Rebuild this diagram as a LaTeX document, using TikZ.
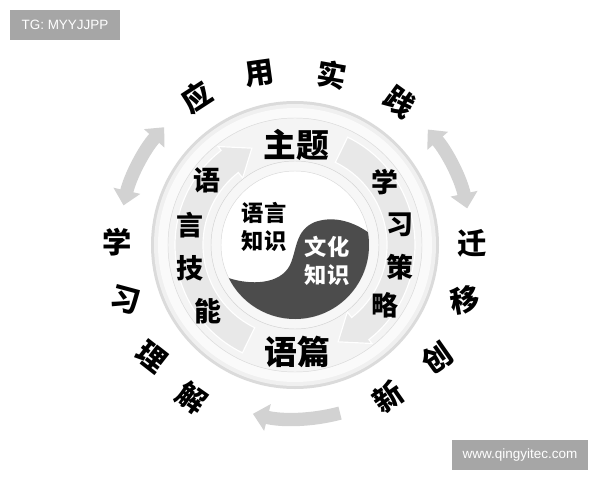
\documentclass[tikz,border=0pt]{standalone}
\usepackage{fontspec}
\setmainfont{Liberation Sans}
\newfontfamily\cjk{Noto Sans CJK SC}
\usetikzlibrary{arrows.meta}

\begin{document}
\begin{tikzpicture}[x=0.03cm, y=0.03cm, >={Triangle[length=0.45cm,width=0.8cm]},
        rimchar/.style={font=\cjk\bfseries\fontsize{25}{25}\selectfont},
        bandchar/.style={font=\cjk\bfseries\fontsize{23}{23}\selectfont},
        corechar/.style={font=\cjk\bfseries\fontsize{19}{24}\selectfont, align=center},
        wmark/.style={fill=gray!70, text=white, font=\fontsize{11.5}{12}\selectfont, minimum height=0.9cm},
        bigarrow/.style={gray!35, line width=0.4cm}]
        \useasboundingbox (-295,-235) rectangle (305,245);

        % disk with its rim
        \fill[gray!28] (0,0) circle (144);
        \fill[gray!12] (0,0) circle (141);
        \fill[gray!4] (0,0) circle (137);
        \filldraw[fill=gray!9, draw=gray!30] (0,0) circle (127);

        % the two arrows in the band
        \filldraw[fill=gray!18, draw=white, line width=1pt] (244:92) arc[start angle=244, end angle=128, radius=92]
          -- (128:85) -- (114:106) -- (128:125) -- (128:120) arc[start angle=128, end angle=244, radius=120] -- cycle;
        \filldraw[fill=gray!18, draw=white, line width=1pt] (64:92) arc[start angle=64, end angle=-52, radius=92]
          -- (-52:85) -- (-66:106) -- (-52:125) -- (-52:120) arc[start angle=-52, end angle=64, radius=120] -- cycle;

        % inner rim and yin-yang
        \filldraw[fill=gray!6, draw=gray!35] (0,0) circle (84);
        \filldraw[fill=white, draw=gray!30] (0,0) circle (74);
        \fill[black!70] (10:74) arc[start angle=10, end angle=-153.4, radius=74]
          .. controls (-45,-40) and (-15,-40) .. (-5,-20)
          .. controls (2,-5) and (0,15) .. (20,23)
          .. controls (40,30) and (60,22) .. (10:74) -- cycle;

        \node[corechar] (lang) at (-31,18) {语言\\知识};
        \node[corechar, text=white] (cult) at (32,-16) {文化\\知识};

        \node[bandchar, font=\cjk\bfseries\fontsize{28}{28}\selectfont] (theme) at (1,100) {主题};
        \node[bandchar, font=\cjk\bfseries\fontsize{28}{28}\selectfont] (text) at (2,-107) {语篇};

        \node[bandchar] (skill1) at (-88,65) {语};
        \node[bandchar] (skill2) at (-105,20) {言};
        \node[bandchar] (skill3) at (-105,-23) {技};
        \node[bandchar] (skill4) at (-87,-66) {能};

        \node[bandchar] (strat1) at (90,63) {学};
        \node[bandchar] (strat2) at (105,20) {习};
        \node[bandchar] (strat3) at (105,-22) {策};
        \node[bandchar] (strat4) at (90,-60) {略};

        % outer words
        \node[rimchar, rotate=33] (apply1) at (-98,148) {应};
        \node[rimchar, rotate=8] (apply2) at (-35,172) {用};
        \node[rimchar, rotate=-10] (apply3) at (37,170) {实};
        \node[rimchar, rotate=-36] (apply4) at (105,143) {践};

        \node[rimchar] (move1) at (177,2) {迁};
        \node[rimchar, rotate=10] (move2) at (170,-55) {移};
        \node[rimchar, rotate=35] (move3) at (142,-113) {创};
        \node[rimchar, rotate=35] (move4) at (93,-152) {新};

        \node[rimchar] (learn1) at (-178,3) {学};
        \node[rimchar, rotate=-15] (learn2) at (-170,-55) {习};
        \node[rimchar, rotate=-38] (learn3) at (-143,-112) {理};
        \node[rimchar, rotate=-35] (learn4) at (-103,-153) {解};

        % grey arrows round the disk
        \draw[bigarrow, <->] (167:176) arc[start angle=167, end angle=138, radius=176];
        \draw[bigarrow, <->] (41:176) arc[start angle=41, end angle=12, radius=176];
        \draw[bigarrow, ->] (285:174) arc[start angle=285, end angle=256, radius=174];

        \node[wmark, minimum width=3.3cm] (tg) at (-230,220) {TG: MYYJJPP};
        \node[wmark, minimum width=4.08cm] (site) at (225,-210) {www.qingyitec.com};
      \end{tikzpicture}
\end{document}
